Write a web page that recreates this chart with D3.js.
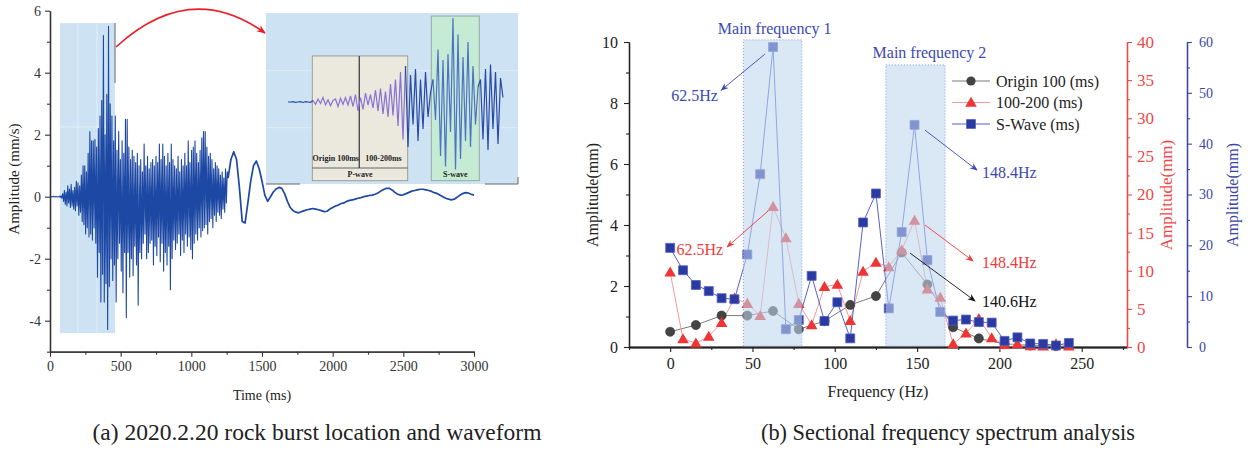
<!DOCTYPE html>
<html>
<head>
<meta charset="utf-8">
<script src="https://cdn.jsdelivr.net/npm/d3@7"></script>
<style>
  body { margin: 0; background: #fff; }
  svg { display: block; }
  text { font-family: "Liberation Serif", "Times New Roman", serif; }
</style>
</head>
<body>
<svg id="fig" width="1252" height="450"></svg>
<script>
// ---------------- Panel (a): waveform data ----------------
// Dense part of the record, sampled every 6 ms from 0 ms
const waveDenseStart = 0, waveDenseStep = 6;
const waveDense = [
  0, 0.01, -0.01, 0, 0.01, 0, -0.01, 0.01, 0, -0.01,
  0, 0.02, -0.02, 0.03, -0.05, 0.1, -0.15, 0.2, -0.25, 0.15,
  -0.3, 0.35, -0.2, 0.25, -0.35, 0.4, -0.3, 0.2, -0.4, 0.3,
  -0.45, 0.5, -0.3, 0.45, -0.6, 0.35, -0.5, 0.7, -0.8, 1.0,
  -0.9, 1.0, -1.2, 0.8, -1.0, 1.4, -1.3, 2.1, -1.2, 1.8,
  -1.4, 1.8, -1.0, 1.85, -1.5, 1.6, -2.6, 2.2, -1.8, 2.6,
  -3.4, 3.1, -2.5, 5.2, -3.4, 2.0, -2.8, 3.3, -4.28, 5.5,
  -2.9, 3.0, -2.0, 2.6, -2.7, 1.8, -2.2, 2.6, -3.4, 1.5,
  -2.0, 2.1, -1.5, 1.2, -2.4, 1.8, -3.1, 1.4, -1.8, 2.5,
  -3.9, 2.5, -1.8, 1.6, -2.6, 1.2, -2.0, 1.5, -2.55, 1.3,
  -1.6, 1.1, -2.2, 1.4, -3.5, 1.0, -1.8, 1.2, -2.0, 0.8,
  -1.5, 1.7, -1.2, 1.0, -2.0, 1.3, -1.8, 0.9, -1.5, 1.1,
  -1.4, 1.2, -2.2, 1.0, -1.6, 1.3, -1.9, 1.1, -1.3, 1.7,
  -2.1, 1.2, -1.5, 1.7, -2.4, 1.3, -1.8, 1.0, -2.2, 1.4,
  -1.6, 1.1, -3.0, 1.7, -2.0, 1.2, -1.4, 1.0, -1.7, 0.9,
  -1.5, 1.3, -1.2, 0.8, -1.9, 1.2, -1.4, 1.0, -1.8, 1.4,
  -1.2, 1.0, -1.6, 1.8, -1.3, 1.1, -1.7, 1.5, -2.0, 1.6,
  -1.5, 1.8, -1.2, 1.4, -1.4, 1.1, -1.0, 1.5, -1.3, 1.9,
  -1.1, 2.1, -1.0, 2.1, -0.9, 1.6, -1.2, 1.3, -0.8, 1.4,
  -0.7, 1.2, -1.0, 0.9, -0.6, 1.1, -0.8, 1.0, -0.5, 0.9,
  -0.6, 0.7, -0.7, 0.8, -0.4, 0.6, -0.5, 0.9, -0.2, 0.8
];
// Slow coda, sampled every 20 ms from 1260 ms
const waveSmoothStart = 1260, waveSmoothStep = 20;
const waveSmooth = [
  0.6, 1.2, 1.45, 1.2, 0.3, -0.8, -0.85, -0.2, 0.5, 1.0,
  1.15, 0.9, 0.5, 0.05, -0.15, 0.0, 0.15, 0.25, 0.3, 0.27,
  0.1, -0.15, -0.35, -0.45, -0.5, -0.52, -0.48, -0.45, -0.42, -0.4,
  -0.38, -0.4, -0.42, -0.45, -0.48, -0.47, -0.4, -0.35, -0.3, -0.27,
  -0.22, -0.2, -0.15, -0.12, -0.1, -0.08, -0.05, -0.03, 0, 0.02,
  0.04, 0.05, 0.08, 0.12, 0.18, 0.23, 0.27, 0.27, 0.22, 0.14,
  0.08, 0.05, 0.06, 0.1, 0.14, 0.18, 0.2, 0.22, 0.24, 0.24,
  0.22, 0.2, 0.17, 0.13, 0.1, 0.05, 0, -0.05, -0.08, -0.1,
  -0.08, -0.02, 0.05, 0.1, 0.13, 0.12, 0.08, 0.05
];
const timeTicks = [0, 500, 1000, 1500, 2000, 2500, 3000];
const timeMinor = [250, 750, 1250, 1750, 2250, 2750];
const ampTicks = [-4, -2, 0, 2, 4, 6];
const ampMinor = [-5, -3, -1, 1, 3, 5];
const highlightTime = [70, 460];
const highlightAmp = [-4.4, 5.6];

// Zoomed waveform inside the inset (relative sample index, amplitude)
const insetWave = [
  0, 0, 0.02, -0.02, 0, 0.02, -0.03, 0.02, 0, -0.02,
  0.1, -0.15, 0.2, -0.1, 0.3, -0.2, 0.15, -0.25, 0.1, 0.2, -0.3, 0.25, -0.15, 0.3, -0.2, 0.4, -0.3, 0.5, -0.6,
  0.3, -0.5, 0.6, -0.2, 0.5, -0.4, 0.8, -0.6, 0.9, -0.8, 0.7, -1.0, 1.2, -0.9, 1.5, -1.6, 2.0, -2.5, 2.4,
  -3.0, 1.8, -1.5, 2.2, -2.6, 1.5, -1.8, 2.0, -1.0, 0.6,
  1.5, -1.2, 3.5, -3.6, 2.8, -4.3, 3.2, -2.0, 5.6, -4.5, 4.5, -3.8, 3.0, -2.6, 4.0, -3.0, 2.4, -1.5, 1.0,
  1.5, -2.5, 2.2, -3.2, 2.5, -1.8, 2.0, -2.8, 1.6, 0.3
];
const insetSegments = [
  { from: 0, to: 10, color: "#2a4aa8" },
  { from: 10, to: 47, color: "#8a72d4" },
  { from: 47, to: 58, color: "#2a4aa8" },
  { from: 58, to: 76, color: "#4f72c8" },
  { from: 76, to: 86, color: "#2a4aa8" }
];

// ---------------- Panel (b): spectrum data ----------------
const spFreq = [0, 7.81, 15.63, 23.44, 31.25, 39.06, 46.88, 54.69, 62.5, 70.31,
  78.13, 85.94, 93.75, 101.56, 109.38, 117.19, 125, 132.81, 140.63, 148.44,
  156.25, 164.06, 171.88, 179.69, 187.5, 195.31, 203.13, 210.94, 218.75, 226.56,
  234.38, 242.19];
const originFreq = [0, 15.63, 31.25, 46.88, 62.5, 78.13, 93.75, 109.38, 125, 140.63,
  156.25, 171.88, 187.5, 203.13, 218.75, 234.38];
const originAmp = [0.5, 0.72, 1.03, 1.03, 1.18, 0.58, 0.85, 1.38, 1.67, 3.1,
  2.05, 0.65, 0.28, 0.1, 0.05, 0.03];
const midAmp = [9.8, 1.05, 0.5, 1.4, 3.2, 6.4, 5.7, 4.1, 18.4, 14.3,
  5.7, 2.9, 7.9, 8.2, 3.45, 9.9, 11.1, 10.5, 12.7, 16.6,
  7.6, 6.5, 0.4, 1.8, 3.7, 1.2, 0.3, 0.4, 0.15, 0.1,
  0.4, 0.1];
const sWaveAmp = [19.5, 15.1, 12.2, 11.0, 9.6, 9.4, 18.2, 34, 59, 3.5,
  5.3, 14, 5.1, 8.8, 1.7, 24.5, 30.2, 7.6, 22.6, 43.7,
  17.1, 6.9, 5.2, 5.4, 4.9, 4.8, 1.2, 1.9, 0.7, 0.6,
  0.3, 0.8];
const freqTicks = [0, 50, 100, 150, 200, 250];
const freqMinor = [-25, 25, 75, 125, 175, 225, 275];
const leftTicks = [0, 2, 4, 6, 8, 10];
const leftMinor = [1, 3, 5, 7, 9];
const redTicks = [0, 5, 10, 15, 20, 25, 30, 35, 40];
const redMinor = [2.5, 7.5, 12.5, 17.5, 22.5, 27.5, 32.5, 37.5];
const blueTicks = [0, 10, 20, 30, 40, 50, 60];
const blueMinor = [5, 15, 25, 35, 45, 55];
const bands = [
  { f0: 44.5, f1: 80, top: 10.07, label: "Main frequency 1", lf: 63.5, lv: 10.45 },
  { f0: 131, f1: 167, top: 9.25, label: "Main frequency 2", lf: 157.5, lv: 9.67 }
];
// Callouts, positions in left-axis units
const callouts = [
  { text: "62.5Hz", color: "#3c48b4", from: [57.5, 9.6], to: [31, 8.42], at: [29, 8.26], anchor: "end" },
  { text: "62.5Hz", color: "#f03a3a", from: [59.5, 4.46], to: [34.6, 3.28], at: [32.2, 3.21], anchor: "end" },
  { text: "148.4Hz", color: "#3c48b4", from: [154.8, 7.11], to: [186.4, 5.8], at: [189.4, 5.74], anchor: "start" },
  { text: "148.4Hz", color: "#f03a3a", from: [154.8, 4.0], to: [184, 2.82], at: [189.4, 2.79], anchor: "start" },
  { text: "140.6Hz", color: "#111111", from: [145.7, 3.08], to: [185.2, 1.51], at: [189.4, 1.51], anchor: "start" }
];
const legendItems = [
  { label: "Origin 100 (ms)", line: "#7a7a7a", fill: "#444444", shape: "circle" },
  { label: "100-200 (ms)", line: "#f59a9a", fill: "#ee3535", shape: "triangle" },
  { label: "S-Wave (ms)", line: "#5563c8", fill: "#2b3aa0", shape: "square" }
];

const svg = d3.select("#fig");
const defs = svg.append("defs");
const plain = d => String(d);

function styleAxis(g, color, size) {
  g.select(".domain").attr("stroke", color).attr("stroke-width", 1.3);
  g.selectAll(".tick line").attr("stroke", color).attr("stroke-width", 1.1);
  g.selectAll(".tick text").attr("fill", color).attr("font-size", size)
    .attr("font-family", '"Liberation Serif", serif');
}

// ================= Panel (a) =================
const ax = d3.scaleLinear().domain([0, 3000]).range([50, 474]);
const ay = d3.scaleLinear().domain([-5, 6]).range([351.7, 10.7]);

// highlighted window
svg.append("rect")
  .attr("x", ax(highlightTime[0])).attr("y", ay(highlightAmp[1]))
  .attr("width", ax(highlightTime[1]) - ax(highlightTime[0]))
  .attr("height", ay(highlightAmp[0]) - ay(highlightAmp[1]))
  .attr("fill", "#cde3f3");
[[78, 23, 78, 333], [97, 23, 97, 333], [60, 127, 115, 127]].forEach(l =>
  svg.append("line").attr("x1", l[0]).attr("y1", l[1]).attr("x2", l[2]).attr("y2", l[3])
    .attr("stroke", "#e4f0fa").attr("stroke-width", 0.8));

const denseTail = waveSmooth.slice(0, 1).map(v => [waveSmoothStart, v]);
const densePts = waveDense.map((v, i) => [waveDenseStart + i * waveDenseStep, v]).concat(denseTail);
const smoothPts = waveSmooth.map((v, i) => [waveSmoothStart + i * waveSmoothStep, v]);
const waveLine = d3.line().x(d => ax(d[0])).y(d => ay(d[1]));
svg.append("path").datum(densePts)
  .attr("fill", "none").attr("stroke", "#1d48a4").attr("stroke-width", 1.1)
  .attr("stroke-linejoin", "round").attr("d", waveLine);
svg.append("path").datum(smoothPts)
  .attr("fill", "none").attr("stroke", "#1d48a4").attr("stroke-width", 1.7)
  .attr("stroke-linejoin", "round").attr("d", waveLine);

// axes
const gAX = svg.append("g").attr("transform", `translate(0,${ay(-5)})`)
  .call(d3.axisBottom(ax).tickValues(timeTicks).tickSize(5).tickPadding(4).tickSizeOuter(0).tickFormat(plain));
styleAxis(gAX, "#333", 14);
const gAXm = svg.append("g").attr("transform", `translate(0,${ay(-5)})`)
  .call(d3.axisBottom(ax).tickValues(timeMinor).tickSize(3).tickFormat("").tickSizeOuter(0));
styleAxis(gAXm, "#333", 14);
const gAY = svg.append("g").attr("transform", `translate(${ax(0)},0)`)
  .call(d3.axisLeft(ay).tickValues(ampTicks).tickSize(5).tickPadding(4).tickSizeOuter(0).tickFormat(plain));
styleAxis(gAY, "#333", 14);
const gAYm = svg.append("g").attr("transform", `translate(${ax(0)},0)`)
  .call(d3.axisLeft(ay).tickValues(ampMinor).tickSize(3).tickFormat("").tickSizeOuter(0));
styleAxis(gAYm, "#333", 14);

svg.append("text").attr("x", 262).attr("y", 400).attr("text-anchor", "middle")
  .attr("font-size", 14).attr("fill", "#222").text("Time (ms)");
svg.append("text").attr("transform", "translate(19,179) rotate(-90)").attr("text-anchor", "middle")
  .attr("font-size", 15).attr("fill", "#222").text("Amplitude (mm/s)");

// bracket on the highlighted window
svg.append("line").attr("x1", 115).attr("y1", 23).attr("x2", 115).attr("y2", 83)
  .attr("stroke", "#666").attr("stroke-width", 1);

// curved arrow to the inset
defs.append("marker").attr("id", "arrRed").attr("viewBox", "0 0 10 10")
  .attr("refX", 9).attr("refY", 5).attr("markerWidth", 9).attr("markerHeight", 9)
  .attr("markerUnits", "userSpaceOnUse").attr("orient", "auto")
  .append("path").attr("d", "M0,1 L10,5 L0,9 L3,5 Z").attr("fill", "#e8202a");
svg.append("path").attr("d", "M116,47 Q190,-21 265,33")
  .attr("fill", "none").attr("stroke", "#e8202a").attr("stroke-width", 1.6)
  .attr("marker-end", "url(#arrRed)");

// ---- inset ----
const ix = d3.scaleLinear().domain([0, insetWave.length - 1]).range([288, 503]);
const iy = d3.scaleLinear().domain([-6, 6]).range([192, 12]);
svg.append("rect").attr("x", 266).attr("y", 13).attr("width", 252).attr("height", 171).attr("fill", "#cde3f3");
[[266, 70.7, 518, 70.7], [266, 127.7, 518, 127.7]].forEach(l =>
  svg.append("line").attr("x1", l[0]).attr("y1", l[1]).attr("x2", l[2]).attr("y2", l[3])
    .attr("stroke", "#e2eef8").attr("stroke-width", 0.8));
[[266, 184, 300, 184], [485, 184, 518, 184], [518, 177, 518, 184]].forEach(l =>
  svg.append("line").attr("x1", l[0]).attr("y1", l[1]).attr("x2", l[2]).attr("y2", l[3])
    .attr("stroke", "#666").attr("stroke-width", 1));

// P-wave box
const pBox = { i0: 9.7, i1: 47.9, mid: 28.5, top: 3.07, bottom: -5.25, sep: -4.4 };
svg.append("rect").attr("x", ix(pBox.i0)).attr("y", iy(pBox.top))
  .attr("width", ix(pBox.i1) - ix(pBox.i0)).attr("height", iy(pBox.bottom) - iy(pBox.top))
  .attr("fill", "#ebe9de").attr("stroke", "#8a8a80").attr("stroke-width", 0.8);
svg.append("line").attr("x1", ix(pBox.i0)).attr("x2", ix(pBox.i1)).attr("y1", iy(pBox.sep)).attr("y2", iy(pBox.sep))
  .attr("stroke", "#555").attr("stroke-width", 0.9);
svg.append("line").attr("x1", ix(pBox.mid)).attr("x2", ix(pBox.mid)).attr("y1", iy(pBox.top)).attr("y2", iy(pBox.sep))
  .attr("stroke", "#333").attr("stroke-width", 1.2);
// S-wave box
const sBox = { i0: 57.3, i1: 76.5, top: 5.73, bottom: -5.25, sep: -4.4 };
svg.append("rect").attr("x", ix(sBox.i0)).attr("y", iy(sBox.top))
  .attr("width", ix(sBox.i1) - ix(sBox.i0)).attr("height", iy(sBox.bottom) - iy(sBox.top))
  .attr("fill", "#c6ebd4").attr("stroke", "#8a9a90").attr("stroke-width", 0.8);

insetSegments.forEach(s => {
  const pts = insetWave.slice(s.from, s.to + 1).map((v, k) => [s.from + k, v]);
  svg.append("path").datum(pts)
    .attr("fill", "none").attr("stroke", s.color).attr("stroke-width", 1.2)
    .attr("d", d3.line().x(d => ix(d[0])).y(d => iy(d[1])));
});

const insetLabels = [
  { t: "Origin 100ms", x: ix((pBox.i0 + pBox.mid) / 2), y: 161 },
  { t: "100-200ms", x: ix((pBox.mid + pBox.i1) / 2), y: 161 },
  { t: "P-wave", x: ix((pBox.i0 + pBox.i1) / 2), y: 177 },
  { t: "S-wave", x: ix((sBox.i0 + sBox.i1) / 2), y: 177 }
];
insetLabels.forEach(l => svg.append("text").attr("x", l.x).attr("y", l.y)
  .attr("text-anchor", "middle").attr("font-size", 8).attr("font-weight", "bold")
  .attr("fill", "#222").text(l.t));

svg.append("text").attr("x", 317).attr("y", 440).attr("text-anchor", "middle")
  .attr("font-size", 23.5).attr("fill", "#222").text("(a) 2020.2.20 rock burst location and waveform");

// ================= Panel (b) =================
const fx = d3.scaleLinear().domain([-25, 277.5]).range([629, 1127]);
const yL = d3.scaleLinear().domain([0, 10]).range([347, 42]);
const yR = d3.scaleLinear().domain([0, 40]).range([347, 42]);
const yB = d3.scaleLinear().domain([0, 60]).range([347, 42]);

// axes
const gFX = svg.append("g").attr("transform", "translate(0,347)")
  .call(d3.axisBottom(fx).tickValues(freqTicks).tickSize(5).tickPadding(6).tickSizeOuter(0));
styleAxis(gFX, "#222", 16);
const gFXm = svg.append("g").attr("transform", "translate(0,347)")
  .call(d3.axisBottom(fx).tickValues(freqMinor).tickSize(3).tickFormat("").tickSizeOuter(0));
styleAxis(gFXm, "#222", 16);
gFX.select(".domain").attr("stroke-width", 2);

const gYL = svg.append("g").attr("transform", "translate(629,0)")
  .call(d3.axisLeft(yL).tickValues(leftTicks).tickSize(5).tickPadding(6).tickSizeOuter(0));
styleAxis(gYL, "#222", 16);
const gYLm = svg.append("g").attr("transform", "translate(629,0)")
  .call(d3.axisLeft(yL).tickValues(leftMinor).tickSize(3).tickFormat("").tickSizeOuter(0));
styleAxis(gYLm, "#222", 16);

const gYR = svg.append("g").attr("transform", "translate(1127,0)")
  .call(d3.axisRight(yR).tickValues(redTicks).tickSize(5).tickPadding(5).tickSizeOuter(0));
styleAxis(gYR, "#f04848", 17);
const gYRm = svg.append("g").attr("transform", "translate(1127,0)")
  .call(d3.axisRight(yR).tickValues(redMinor).tickSize(3).tickFormat("").tickSizeOuter(0));
styleAxis(gYRm, "#f04848", 17);

const gYB = svg.append("g").attr("transform", "translate(1187,0)")
  .call(d3.axisRight(yB).tickValues(blueTicks).tickSize(5).tickPadding(7).tickSizeOuter(0));
styleAxis(gYB, "#3a46a8", 14);
const gYBm = svg.append("g").attr("transform", "translate(1187,0)")
  .call(d3.axisRight(yB).tickValues(blueMinor).tickSize(3).tickFormat("").tickSizeOuter(0));
styleAxis(gYBm, "#3a46a8", 14);

svg.append("text").attr("x", 878).attr("y", 397).attr("text-anchor", "middle")
  .attr("font-size", 16).attr("fill", "#222").text("Frequency (Hz)");
svg.append("text").attr("transform", "translate(598,195) rotate(-90)").attr("text-anchor", "middle")
  .attr("font-size", 16).attr("fill", "#222").text("Amplitude(mm)");
svg.append("text").attr("transform", "translate(1172,195) rotate(-90)").attr("text-anchor", "middle")
  .attr("font-size", 17).attr("fill", "#f04848").text("Amplitude(mm)");
svg.append("text").attr("transform", "translate(1238,195) rotate(-90)").attr("text-anchor", "middle")
  .attr("font-size", 16).attr("fill", "#3a46a8").text("Amplitude(mm)");

// series
const origin = originFreq.map((f, i) => [f, originAmp[i]]);
const mid = spFreq.map((f, i) => [f, midAmp[i]]);
const sw = spFreq.map((f, i) => [f, sWaveAmp[i]]);

svg.append("path").datum(origin).attr("fill", "none").attr("stroke", "#7a7a7a").attr("stroke-width", 1)
  .attr("d", d3.line().x(d => fx(d[0])).y(d => yL(d[1])));
svg.append("path").datum(mid).attr("fill", "none").attr("stroke", "#f59a9a").attr("stroke-width", 1)
  .attr("d", d3.line().x(d => fx(d[0])).y(d => yR(d[1])));
svg.append("path").datum(sw).attr("fill", "none").attr("stroke", "#5563c8").attr("stroke-width", 1)
  .attr("d", d3.line().x(d => fx(d[0])).y(d => yB(d[1])));

svg.append("g").selectAll("circle").data(origin).join("circle")
  .attr("cx", d => fx(d[0])).attr("cy", d => yL(d[1])).attr("r", 4.6)
  .attr("fill", "#444").attr("stroke", "#333").attr("stroke-width", 0.6);
const tri = d3.symbol(d3.symbolTriangle, 58)();
svg.append("g").selectAll("path").data(mid).join("path")
  .attr("d", tri).attr("transform", d => `translate(${fx(d[0])},${yR(d[1]) + 1})`)
  .attr("fill", "#ee3535");
const sq = d3.symbol(d3.symbolSquare, 80)();
svg.append("g").selectAll("path").data(sw).join("path")
  .attr("d", sq).attr("transform", d => `translate(${fx(d[0])},${yB(d[1])})`)
  .attr("fill", "#2b3aa0").attr("stroke", "#5060c4").attr("stroke-width", 0.8);

// main-frequency bands laid over the marks
bands.forEach(b => {
  svg.append("rect").attr("x", fx(b.f0)).attr("y", yL(b.top))
    .attr("width", fx(b.f1) - fx(b.f0)).attr("height", yL(0) - yL(b.top) - 1)
    .attr("fill", "rgb(192,214,238)").attr("fill-opacity", 0.58)
    .attr("stroke", "#8c9ce0").attr("stroke-width", 1).attr("stroke-dasharray", "1,2");
  svg.append("text").attr("x", fx(b.lf)).attr("y", yL(b.lv)).attr("dy", "0.35em")
    .attr("text-anchor", "middle").attr("font-size", 16).attr("fill", "#3c48b4").text(b.label);
});

// callouts
callouts.forEach((c, k) => {
  defs.append("marker").attr("id", "arr" + k).attr("viewBox", "0 0 10 10")
    .attr("refX", 9).attr("refY", 5).attr("markerWidth", 8).attr("markerHeight", 8)
    .attr("markerUnits", "userSpaceOnUse").attr("orient", "auto")
    .append("path").attr("d", "M0,1 L10,5 L0,9 L3,5 Z").attr("fill", c.color);
  svg.append("line")
    .attr("x1", fx(c.from[0])).attr("y1", yL(c.from[1]))
    .attr("x2", fx(c.to[0])).attr("y2", yL(c.to[1]))
    .attr("stroke", c.color).attr("stroke-width", 0.9).attr("marker-end", `url(#arr${k})`);
  svg.append("text").attr("x", fx(c.at[0])).attr("y", yL(c.at[1])).attr("dy", "0.35em")
    .attr("text-anchor", c.anchor).attr("font-size", 16).attr("fill", c.color).text(c.text);
});

// legend
const lg = svg.append("g").attr("transform", "translate(952,81)");
legendItems.forEach((it, i) => {
  const g = lg.append("g").attr("transform", `translate(0,${i * 21.5})`);
  g.append("line").attr("x1", 0).attr("x2", 38).attr("stroke", it.line).attr("stroke-width", 1.2);
  if (it.shape === "circle") g.append("circle").attr("cx", 19).attr("r", 4.6).attr("fill", it.fill);
  if (it.shape === "triangle") g.append("path").attr("d", tri).attr("transform", "translate(19,1)").attr("fill", it.fill);
  if (it.shape === "square") g.append("path").attr("d", sq).attr("transform", "translate(19,0)").attr("fill", it.fill).attr("stroke", "#5060c4").attr("stroke-width", 0.8);
  g.append("text").attr("x", 44).attr("dy", "0.35em").attr("font-size", 16).attr("fill", "#222").text(it.label);
});

svg.append("text").attr("x", 948).attr("y", 440).attr("text-anchor", "middle")
  .attr("font-size", 22.3).attr("fill", "#222").text("(b) Sectional frequency spectrum analysis");
</script>
</body>
</html>
